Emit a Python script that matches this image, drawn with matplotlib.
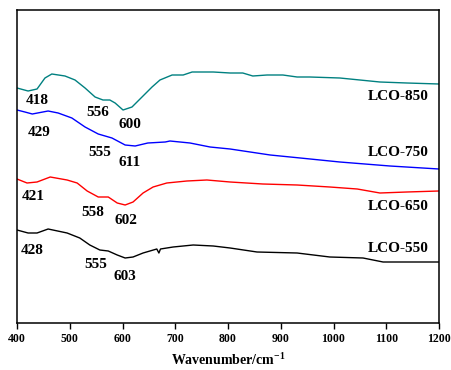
import matplotlib
matplotlib.use("Agg")
import matplotlib.pyplot as plt

# Wavenumber (cm^-1) and transmittance (arbitrary units, stacked)
wn_850 = [400, 421, 438, 453, 466, 491, 510, 529, 548, 563, 576, 586, 601, 618, 637, 656, 671,
          694, 715, 732, 772, 804, 828, 847, 874, 904, 931, 955, 1012, 1088, 1139, 1200]
t_850 = [235, 232, 234, 245, 249, 247, 243, 235, 226, 223, 223, 220, 213, 216, 226, 236, 243,
         248, 248, 251, 251, 250, 250, 247, 248, 248, 246, 246, 245, 241, 240, 239]

wn_750 = [400, 415, 429, 459, 478, 504, 529, 554, 580, 605, 624, 648, 681, 690, 728, 766, 804,
          842, 880, 937, 1012, 1107, 1200]
t_750 = [213, 211, 209, 212, 210, 205, 196, 189, 185, 178, 177, 180, 181, 182, 180, 176, 174,
         171, 168, 165, 161, 157, 154]

wn_650 = [400, 419, 438, 463, 495, 514, 533, 554, 573, 590, 605, 620, 639, 658, 684, 722, 760,
          804, 866, 931, 993, 1045, 1088, 1139, 1200]
t_650 = [144, 140, 141, 146, 143, 140, 132, 126, 126, 120, 118, 121, 130, 136, 140, 142, 143,
         141, 139, 138, 136, 134, 130, 131, 132]

wn_550 = [400, 421, 438, 459, 495, 519, 538, 557, 573, 590, 605, 620, 639, 665, 669, 672, 696,
          734, 772, 804, 855, 931, 993, 1056, 1094, 1200]
t_550 = [93, 90, 90, 94, 90, 85, 78, 73, 72, 68, 65, 66, 70, 74, 70, 74, 76,
         78, 77, 75, 71, 70, 66, 65, 61, 61]

series_names = ["LCO-850", "LCO-750", "LCO-650", "LCO-550"]
series_colors = ["#008080", "#0000ff", "#ff0000", "#000000"]

# Peak annotations: (label, wavenumber position, y position)
peak_labels = ["418", "556", "600", "429", "555", "611", "421", "558", "602", "428", "555", "603"]
peak_x = [438, 554, 614, 442, 557, 614, 430, 544, 607, 428, 550, 605]
peak_y = [223, 210, 198, 191, 171, 160, 126, 111, 103, 73, 59, 46]

name_x = 1181
name_y = [227, 171, 117, 74]

plt.rcParams['font.family'] = ['Liberation Serif', 'DejaVu Serif']
plt.rcParams['mathtext.fontset'] = 'custom'
plt.rcParams['mathtext.rm'] = 'Liberation Serif:bold'
plt.rcParams['mathtext.bf'] = 'Liberation Serif:bold'
plt.rcParams['mathtext.default'] = 'rm'

fig = plt.figure(figsize=(4.51, 3.70), dpi=100)
ax = fig.add_axes([17/451, 47/370, 422/451, 313/370])

data = [(wn_850, t_850), (wn_750, t_750), (wn_650, t_650), (wn_550, t_550)]
for (x, y), c in zip(data, series_colors):
    ax.plot(x, y, color=c, lw=1.0)

for lab, px, py in zip(peak_labels, peak_x, peak_y):
    ax.text(px, py, lab, ha='center', va='center', fontsize=11, fontweight='bold')

for nm, ny in zip(series_names, name_y):
    ax.text(name_x, ny, nm, ha='right', va='center', fontsize=11, fontweight='bold')

ax.set_xlim(400, 1200)
ax.set_ylim(0, 313)
ax.set_xticks(range(400, 1201, 100))
ax.set_yticks([])
ax.tick_params(axis='x', direction='out', length=4, width=1, labelsize=8.5, pad=3)
for lbl in ax.get_xticklabels():
    lbl.set_fontweight('bold')
for s in ax.spines.values():
    s.set_linewidth(1.1)
ax.set_xlabel("Wavenumber/cm$^{\\mathregular{-1}}$", fontsize=10, fontweight='bold', labelpad=5)

fig.savefig("out.png", dpi=100)
